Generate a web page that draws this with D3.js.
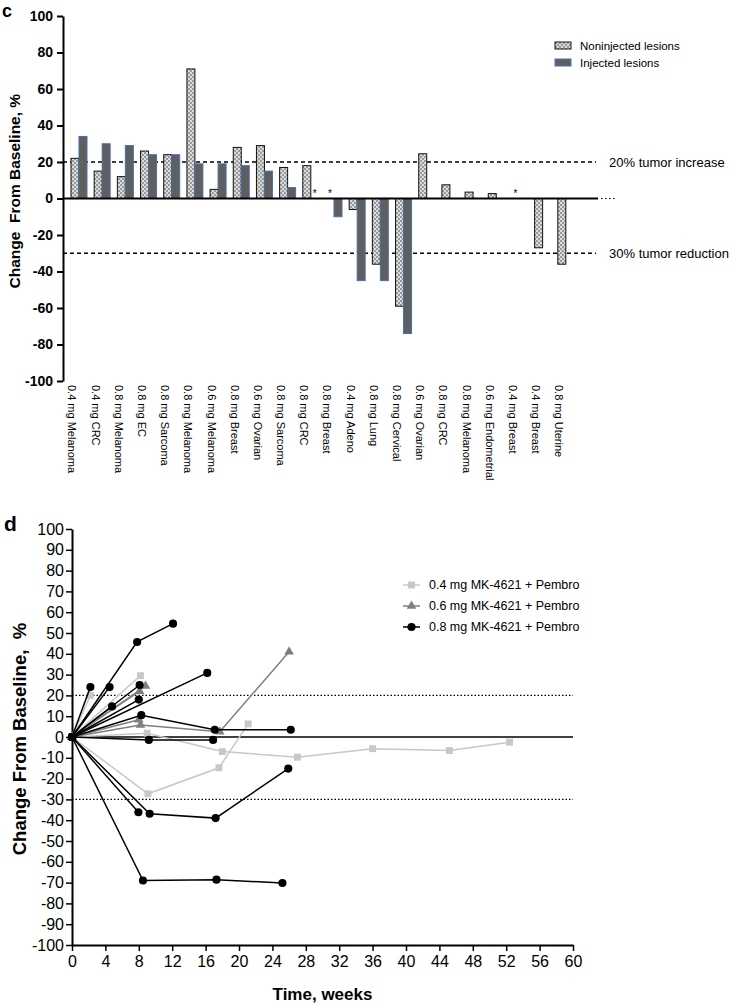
<!DOCTYPE html>
<html>
<head>
<meta charset="utf-8">
<script src="https://cdn.jsdelivr.net/npm/d3@7"></script>
<style>
  body { margin: 0; background: #fff; }
  svg { display: block; font-family: "Liberation Sans", Arial, sans-serif; }
</style>
</head>
<body>
<svg id="chart" width="745" height="1008"></svg>
<script>
// panel c: best change per lesion type
const categories = [
    '0.4 mg Melanoma', '0.4 mg CRC', '0.8 mg Melanoma', '0.8 mg EC', '0.8 mg Sarcoma',
    '0.8 mg Melanoma', '0.6 mg Melanoma', '0.8 mg Breast', '0.6 mg Ovarian', '0.8 mg Sarcoma',
    '0.8 mg CRC', '0.8 mg Breast', '0.4 mg Adeno', '0.8 mg Lung', '0.8 mg Cervical',
    '0.6 mg Ovarian', '0.8 mg CRC', '0.8 mg Melanoma', '0.6 mg Endometrial', '0.4 mg Breast',
    '0.4 mg Breast', '0.8 mg Uterine'
];
const noninjected = [22, 15, 12, 26, 24, 71, 5, 28, 29, 17, 18, null, -6, -36, -59, 24.5, 7.5, 3.5, 2.7, null, -27, -36];
const injected = [34, 30, 29, 24, 24, 19, 19, 18, 15, 6, null, -10, -45, -45, -74, null, null, null, null, null, null, null];
const asterisks = [[10, 'injected'], [11, 'noninjected'], [19, 'noninjected']];
const barTicks = d3.range(-100, 101, 20);
const refLines = [[20, '20% tumor increase'], [-30, '30% tumor reduction']];

// panel d: change over time, one array of [week, %] per patient
const weekTicks = d3.range(0, 61, 4);
const pctTicks = d3.range(-100, 101, 10);
const dose04 = [
    [[0, 0], [2.2, 20]],
    [[0, 0], [8.2, 29.5]],
    [[0, 0], [9.0, 1.8], [18.0, -7], [27.0, -9.7], [36.0, -5.6], [45.2, -6.5], [52.4, -2.5]],
    [[0, 0], [9.1, -27.3], [17.6, -14.8], [21.1, 6.3]]
];
const dose06 = [
    [[0, 0], [8.1, 22]],
    [[0, 0], [8.8, 24.5]],
    [[0, 0], [8.0, 8.3]],
    [[0, 0], [8.2, 5.8], [17.7, 2.5], [26.0, 41]]
];
const dose08 = [
    [[0, 0], [2.2, 24]],
    [[0, 0], [4.5, 24]],
    [[0, 0], [7.8, 45.7], [12.1, 54.5]],
    [[0, 0], [4.8, 14.7]],
    [[0, 0], [8.1, 25]],
    [[0, 0], [8.0, 18]],
    [[0, 0], [8.3, 10.5], [17.1, 3.5], [26.2, 3.5]],
    [[0, 0], [16.2, 30.8]],
    [[0, 0], [9.2, -1.4], [16.9, -1.4]],
    [[0, 0], [7.95, -36.2]],
    [[0, 0], [9.3, -36.9], [17.2, -39], [25.9, -15.2]],
    [[0, 0], [8.5, -69], [17.3, -68.6], [25.2, -70.2]]
];
const doseLabels = ['0.4 mg MK-4621 + Pembro', '0.6 mg MK-4621 + Pembro', '0.8 mg MK-4621 + Pembro'];

const svg = d3.select('#chart');
const plain = function (d) { return String(d); }; // hyphen, not the unicode minus

// pattern for the noninjected bars
const pat = svg.append('defs').append('pattern')
    .attr('id', 'dots').attr('patternUnits', 'userSpaceOnUse')
    .attr('width', 4).attr('height', 4);
pat.append('rect').attr('width', 4).attr('height', 4).attr('fill', '#dcdcdc');
pat.append('circle').attr('cx', 1).attr('cy', 1).attr('r', 0.9).attr('fill', '#7a7a7a');
pat.append('circle').attr('cx', 3).attr('cy', 3).attr('r', 0.9).attr('fill', '#7a7a7a');

const nonStyle = function (sel) { sel.attr('fill', 'url(#dots)').attr('stroke', '#111').attr('stroke-width', 1); };
const injStyle = function (sel) { sel.attr('fill', '#5f5f5f').attr('stroke', '#4a6fb5').attr('stroke-width', 1); };

// ---------- panel c ----------
const yTop = d3.scaleLinear().domain([-100, 100]).range([381, 16]);
const xTop = d3.scaleBand().domain(d3.range(categories.length))
    .range([63, 581.8]).paddingInner(0.31).paddingOuter(0.345);
const half = xTop.bandwidth() / 2;

svg.append('text').text('c').attr('x', 2).attr('y', 17)
    .style('font-size', '18px').style('font-weight', 'bold');

const cAxis = svg.append('g').attr('transform', 'translate(63,0)')
    .call(d3.axisLeft(yTop).tickValues(barTicks).tickFormat(plain).tickSize(6).tickPadding(4).tickSizeOuter(0));
cAxis.select('.domain').attr('stroke-width', 2);
cAxis.selectAll('.tick line').attr('stroke-width', 2);
cAxis.selectAll('text').style('font-size', '14px').style('font-weight', 'bold')
    .style('font-family', '"Liberation Sans", Arial, sans-serif');

svg.append('text').attr('transform', 'translate(14,' + yTop(4) + ') rotate(-90)')
    .attr('text-anchor', 'middle').attr('dominant-baseline', 'central')
    .style('font-size', '15.5px').style('font-weight', 'bold').style('white-space', 'pre')
    .text('Change  From Baseline, %');

// reference lines
refLines.forEach(function (r) {
    svg.append('line').attr('x1', 63).attr('x2', 596).attr('y1', yTop(r[0])).attr('y2', yTop(r[0]))
        .attr('stroke', '#000').attr('stroke-width', 1.5).attr('stroke-dasharray', '4,3');
    svg.append('text').attr('x', 609).attr('y', yTop(r[0])).attr('dominant-baseline', 'central')
        .style('font-size', '13px').text(r[1]);
});

const bars = svg.append('g');
bars.selectAll('.non').data(noninjected.map(function (v, i) { return [i, v]; }).filter(function (d) { return d[1] !== null; }))
    .enter().append('rect').attr('class', 'non')
    .attr('x', function (d) { return xTop(d[0]); })
    .attr('width', half)
    .attr('y', function (d) { return yTop(Math.max(0, d[1])); })
    .attr('height', function (d) { return Math.abs(yTop(d[1]) - yTop(0)); })
    .call(nonStyle);
bars.selectAll('.inj').data(injected.map(function (v, i) { return [i, v]; }).filter(function (d) { return d[1] !== null; }))
    .enter().append('rect').attr('class', 'inj')
    .attr('x', function (d) { return xTop(d[0]) + half; })
    .attr('width', half)
    .attr('y', function (d) { return yTop(Math.max(0, d[1])); })
    .attr('height', function (d) { return Math.abs(yTop(d[1]) - yTop(0)); })
    .call(injStyle);

bars.selectAll('.star').data(asterisks).enter().append('text')
    .attr('x', function (d) { return xTop(d[0]) + (d[1] === 'injected' ? half * 1.5 : half * 0.5); })
    .attr('y', yTop(0) - 2).attr('text-anchor', 'middle')
    .style('font-size', '10px').text('*');

// zero line plus the dotted tail
svg.append('line').attr('x1', 63).attr('x2', 598).attr('y1', yTop(0)).attr('y2', yTop(0))
    .attr('stroke', '#000').attr('stroke-width', 2);
svg.append('line').attr('x1', 601).attr('x2', 617).attr('y1', yTop(0)).attr('y2', yTop(0))
    .attr('stroke', '#000').attr('stroke-width', 1).attr('stroke-dasharray', '1.5,2.5');

svg.append('g').selectAll('text').data(categories).enter().append('text')
    .attr('transform', function (d, i) { return 'translate(' + (xTop(i) + 1.5) + ',385) rotate(90)'; })
    .attr('dominant-baseline', 'central')
    .style('font-size', '11px').text(function (d) { return d; });

// legend c
const legC = svg.append('g').attr('transform', 'translate(555,46)');
legC.append('rect').attr('x', 0).attr('y', -4).attr('width', 16).attr('height', 7).call(nonStyle);
legC.append('rect').attr('x', 0).attr('y', 13).attr('width', 16).attr('height', 7).call(injStyle);
legC.append('text').attr('x', 25).attr('y', 0).attr('dominant-baseline', 'central').style('font-size', '11.5px').text('Noninjected lesions');
legC.append('text').attr('x', 25).attr('y', 17).attr('dominant-baseline', 'central').style('font-size', '11.5px').text('Injected lesions');

// ---------- panel d ----------
const xBot = d3.scaleLinear().domain([0, 60]).range([72, 573]);
const yBot = d3.scaleLinear().domain([-100, 100]).range([945, 529]);
const narrow = '"Liberation Sans Narrow", "Arial Narrow", sans-serif';

svg.append('text').text('d').attr('x', 4).attr('y', 531)
    .style('font-size', '21px').style('font-weight', 'bold');

[20, -30].forEach(function (v) {
    svg.append('line').attr('x1', 72).attr('x2', 573).attr('y1', yBot(v)).attr('y2', yBot(v))
        .attr('stroke', '#000').attr('stroke-width', 1.2).attr('stroke-dasharray', '1.5,2');
});
svg.append('line').attr('x1', 72).attr('x2', 573).attr('y1', yBot(0)).attr('y2', yBot(0))
    .attr('stroke', '#000').attr('stroke-width', 1.5);

const dAxisY = svg.append('g').attr('transform', 'translate(72,0)')
    .call(d3.axisLeft(yBot).tickValues(pctTicks).tickFormat(plain).tickSize(6).tickPadding(2).tickSizeOuter(0));
const dAxisX = svg.append('g').attr('transform', 'translate(0,945)')
    .call(d3.axisBottom(xBot).tickValues(weekTicks).tickFormat(plain).tickSize(6).tickPadding(5).tickSizeOuter(0));
[dAxisY, dAxisX].forEach(function (g) {
    g.select('.domain').attr('stroke-width', 2);
    g.selectAll('.tick line').attr('stroke-width', 1.5);
    g.selectAll('text').style('font-size', '16px').style('font-family', narrow).attr('fill', '#000');
});

svg.append('text').attr('transform', 'translate(19,' + yBot(-1) + ') rotate(-90)')
    .attr('text-anchor', 'middle').attr('dominant-baseline', 'central')
    .style('font-size', '18.5px').style('font-weight', 'bold').style('white-space', 'pre')
    .text('Change From Baseline,  %');
svg.append('text').attr('x', xBot(30)).attr('y', 994).attr('text-anchor', 'middle')
    .attr('dominant-baseline', 'central')
    .style('font-size', '17px').style('font-weight', 'bold').style('font-family', narrow)
    .text('Time, weeks');

const line = d3.line().x(function (d) { return xBot(d[0]); }).y(function (d) { return yBot(d[1]); });
const groups = [
    { data: dose04, color: '#c8c8c8', shape: d3.symbolSquare, size: 48 },
    { data: dose06, color: '#7f7f7f', shape: d3.symbolTriangle, size: 40 },
    { data: dose08, color: '#000', shape: d3.symbolCircle, size: 52 }
];
const symbolPath = function (g) { return d3.symbol().type(g.shape).size(g.size)(); };

groups.forEach(function (g) {
    const layer = svg.append('g');
    layer.selectAll('path.ln').data(g.data).enter().append('path').attr('class', 'ln')
        .attr('d', line).attr('fill', 'none').attr('stroke', g.color).attr('stroke-width', 1.5);
    layer.selectAll('path.pt').data(g.data.flat()).enter().append('path').attr('class', 'pt')
        .attr('transform', function (d) { return 'translate(' + xBot(d[0]) + ',' + yBot(d[1]) + ')'; })
        .attr('d', symbolPath(g)).attr('fill', g.color);
});

// legend d
const legD = svg.append('g').attr('transform', 'translate(403,585)');
groups.forEach(function (g, i) {
    const row = legD.append('g').attr('transform', 'translate(0,' + (i * 21) + ')');
    row.append('line').attr('x1', 0).attr('x2', 17).attr('stroke', g.color).attr('stroke-width', 1.5);
    row.append('path').attr('transform', 'translate(8.5,0)').attr('d', symbolPath(g)).attr('fill', g.color);
    row.append('text').attr('x', 26).attr('y', 0).attr('dominant-baseline', 'central')
        .style('font-size', '12.5px').text(doseLabels[i]);
});
</script>
</body>
</html>
